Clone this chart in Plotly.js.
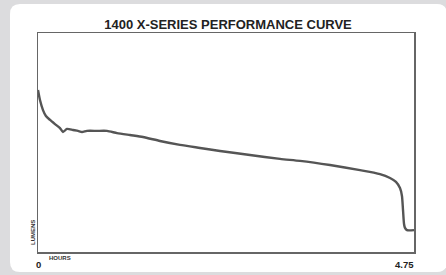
<!DOCTYPE html>
<html><head><meta charset="utf-8">
<script src="https://cdn.plot.ly/plotly-3.0.1.min.js"></script>
<style>html,body{margin:0;padding:0;background:#dcdcde;}#c{width:446px;height:275px;}</style>
</head><body><div id="c"></div>
<script>
const chartTitle = '1400 X-SERIES PERFORMANCE CURVE';
const xLabel = 'HOURS';
const yLabel = 'LUMENS';
const xStartLabel = '0';
const xEndLabel = '4.75';
const hours = [0, 0.025, 0.063, 0.10, 0.152, 0.215, 0.278, 0.316, 0.366, 0.442, 0.505, 0.556, 0.619, 0.745, 0.872, 0.998, 1.162, 1.326, 1.541, 1.794, 2.047, 2.299, 2.678, 3.057, 3.310, 3.689, 4.068, 4.320, 4.447, 4.522, 4.573, 4.598, 4.611, 4.624, 4.636, 4.661, 4.75];
const lumens = [74.0, 69.4, 64.8, 62.1, 60.3, 58.4, 56.6, 54.8, 56.2, 55.7, 55.3, 54.8, 55.3, 55.3, 55.3, 54.3, 53.4, 52.5, 50.7, 48.9, 47.5, 46.1, 44.3, 42.5, 41.6, 39.7, 37.4, 35.6, 33.8, 32.0, 29.2, 25.6, 19.2, 12.8, 11.0, 10.0, 10.0];

const W = 446, H = 275, L = 38, R = 32, T = 33, B = 23;
const pw = W - L - R, ph = H - T - B;
const px = v => (v - L) / pw;
const py = v => (H - B - v) / ph;
const cx0 = px(10), cx1 = px(447), cy0 = py(272), cy1 = py(4);
const rx = 10 / pw, ry = 10 / ph;
const cardPath = `M ${cx0+rx} ${cy1} L ${cx1-rx} ${cy1} Q ${cx1} ${cy1} ${cx1} ${cy1-ry} L ${cx1} ${cy0+ry} Q ${cx1} ${cy0} ${cx1-rx} ${cy0} L ${cx0+rx} ${cy0} Q ${cx0} ${cy0} ${cx0} ${cy0+ry} L ${cx0} ${cy1-ry} Q ${cx0} ${cy1} ${cx0+rx} ${cy1} Z`;
const fam = 'Liberation Sans, Arial, sans-serif';

Plotly.newPlot('c', [{
  x: hours, y: lumens, type: 'scatter', mode: 'lines',
  line: {color: '#555555', width: 2.4, shape: 'spline', smoothing: 0.6},
  hoverinfo: 'none'
}], {
  width: W, height: H,
  margin: {l: L, r: R, t: T, b: B, pad: 0},
  paper_bgcolor: '#dcdcde',
  plot_bgcolor: 'rgba(0,0,0,0)',
  showlegend: false,
  title: {text: '<b>' + chartTitle + '</b>', x: 228 / W, xanchor: 'center', y: 1 - 24 / H, yanchor: 'middle',
          font: {family: fam, size: 13, color: '#222222'}},
  xaxis: {range: [0, 4.75], showgrid: false, zeroline: false, showticklabels: false, ticks: '',
          showline: true, mirror: true, linecolor: '#666666', linewidth: 1.5, fixedrange: true},
  yaxis: {range: [0, 100], showgrid: false, zeroline: false, showticklabels: false, ticks: '',
          showline: true, mirror: true, linecolor: '#666666', linewidth: 1.5, fixedrange: true},
  shapes: [{type: 'path', xref: 'paper', yref: 'paper', path: cardPath, fillcolor: '#ffffff', line: {width: 0}, layer: 'below'}],
  annotations: [
    {text: '<b>' + xStartLabel + '</b>', xref: 'paper', yref: 'paper', x: px(38.5), y: py(264), xanchor: 'center', yanchor: 'middle', showarrow: false,
     font: {family: fam, size: 9.5, color: '#222222'}},
    {text: '<b>' + xEndLabel + '</b>', xref: 'paper', yref: 'paper', x: px(416.5), y: py(264), xanchor: 'right', yanchor: 'middle', showarrow: false,
     font: {family: fam, size: 9.5, color: '#222222'}},
    {text: '<b>' + xLabel + '</b>', xref: 'paper', yref: 'paper', x: px(47), y: py(258), xanchor: 'left', yanchor: 'middle', showarrow: false,
     font: {family: fam, size: 6, color: '#333333'}},
    {text: '<b>' + yLabel + '</b>', xref: 'paper', yref: 'paper', x: px(33), y: py(233), xanchor: 'center', yanchor: 'middle', textangle: -90, showarrow: false,
     font: {family: fam, size: 6, color: '#333333'}}
  ]
}, {staticPlot: true, displayModeBar: false});
</script></body></html>
